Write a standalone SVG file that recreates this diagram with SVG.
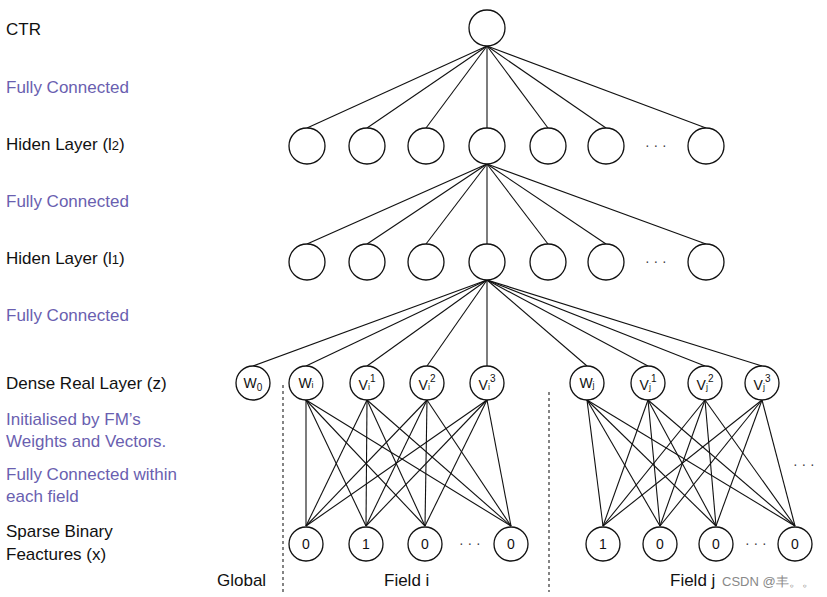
<svg xmlns="http://www.w3.org/2000/svg" width="827" height="597" viewBox="0 0 827 597">
<style>
text{font-family:"Liberation Sans",Arial,sans-serif;font-size:17px;fill:#111}
.p{fill:#6a5fb0}
.n circle{fill:#fff;stroke:#111;stroke-width:1.3}
.c line{stroke:#111;stroke-width:1.1}
.d{stroke:#333;stroke-width:1.2;stroke-dasharray:3,3}
.s{font-size:14px;text-anchor:middle}
.dots{font-size:14px;fill:#444}
</style>
<rect width="827" height="597" fill="#fff"/>
<g id="labels">
<text x="6" y="35">CTR</text>
<text x="6" y="93" class="p">Fully Connected</text>
<text x="6" y="150">Hiden Layer (l<tspan font-size="13">2</tspan>)</text>
<text x="6" y="207" class="p">Fully Connected</text>
<text x="6" y="264">Hiden Layer (l<tspan font-size="13">1</tspan>)</text>
<text x="6" y="321" class="p">Fully Connected</text>
<text x="6" y="389">Dense Real Layer (z)</text>
<text x="6" y="425" class="p">Initialised by FM’s</text>
<text x="6" y="447" class="p">Weights and Vectors.</text>
<text x="6" y="480" class="p">Fully Connected within</text>
<text x="6" y="502" class="p">each field</text>
<text x="6" y="537">Sparse Binary</text>
<text x="6" y="560">Feactures (x)</text>
<text x="217" y="586">Global</text>
<text x="384" y="586">Field i</text>
<text x="670" y="586">Field j</text>
<text x="722" y="586" style="font-size:13px;fill:#888">CSDN @丰。。</text>
</g>
<g id="connectors" class="c">
<line x1="487" y1="46" x2="307" y2="128"/><line x1="487" y1="46" x2="367" y2="128"/><line x1="487" y1="46" x2="426" y2="128"/><line x1="487" y1="46" x2="487" y2="128"/><line x1="487" y1="46" x2="548" y2="128"/><line x1="487" y1="46" x2="606" y2="128"/><line x1="487" y1="46" x2="706" y2="128"/>
<line x1="487" y1="164" x2="307" y2="244"/><line x1="487" y1="164" x2="367" y2="244"/><line x1="487" y1="164" x2="426" y2="244"/><line x1="487" y1="164" x2="487" y2="244"/><line x1="487" y1="164" x2="548" y2="244"/><line x1="487" y1="164" x2="606" y2="244"/><line x1="487" y1="164" x2="706" y2="244"/>
<line x1="487" y1="280" x2="253" y2="366"/><line x1="487" y1="280" x2="306" y2="366"/><line x1="487" y1="280" x2="367" y2="366"/><line x1="487" y1="280" x2="427" y2="366"/><line x1="487" y1="280" x2="487" y2="366"/><line x1="487" y1="280" x2="587" y2="366"/><line x1="487" y1="280" x2="648" y2="366"/><line x1="487" y1="280" x2="705" y2="366"/><line x1="487" y1="280" x2="762" y2="366"/>
<!-- field i -->
<line x1="306" y1="400" x2="306" y2="526"/><line x1="306" y1="400" x2="366" y2="526"/><line x1="306" y1="400" x2="425" y2="526"/><line x1="306" y1="400" x2="511" y2="526"/>
<line x1="367" y1="400" x2="306" y2="526"/><line x1="367" y1="400" x2="366" y2="526"/><line x1="367" y1="400" x2="425" y2="526"/><line x1="367" y1="400" x2="511" y2="526"/>
<line x1="427" y1="400" x2="306" y2="526"/><line x1="427" y1="400" x2="366" y2="526"/><line x1="427" y1="400" x2="425" y2="526"/><line x1="427" y1="400" x2="511" y2="526"/>
<line x1="487" y1="400" x2="306" y2="526"/><line x1="487" y1="400" x2="366" y2="526"/><line x1="487" y1="400" x2="425" y2="526"/><line x1="487" y1="400" x2="511" y2="526"/>
<!-- field j -->
<line x1="587" y1="400" x2="603" y2="526"/><line x1="587" y1="400" x2="660" y2="526"/><line x1="587" y1="400" x2="716" y2="526"/><line x1="587" y1="400" x2="795" y2="526"/>
<line x1="648" y1="400" x2="603" y2="526"/><line x1="648" y1="400" x2="660" y2="526"/><line x1="648" y1="400" x2="716" y2="526"/><line x1="648" y1="400" x2="795" y2="526"/>
<line x1="705" y1="400" x2="603" y2="526"/><line x1="705" y1="400" x2="660" y2="526"/><line x1="705" y1="400" x2="716" y2="526"/><line x1="705" y1="400" x2="795" y2="526"/>
<line x1="762" y1="400" x2="603" y2="526"/><line x1="762" y1="400" x2="660" y2="526"/><line x1="762" y1="400" x2="716" y2="526"/><line x1="762" y1="400" x2="795" y2="526"/>
</g>
<line class="d" x1="283" y1="385" x2="283" y2="592"/>
<line class="d" x1="549" y1="392" x2="549" y2="592"/>
<g id="ctr" class="n"><circle cx="487" cy="28" r="18"/></g>
<g id="l2" class="n">
<circle cx="307" cy="146" r="18"/><circle cx="367" cy="146" r="18"/><circle cx="426" cy="146" r="18"/><circle cx="487" cy="146" r="18"/><circle cx="548" cy="146" r="18"/><circle cx="606" cy="146" r="18"/><circle cx="706" cy="146" r="18"/>
<text x="645" y="150" class="dots">· · ·</text>
</g>
<g id="l1" class="n">
<circle cx="307" cy="262" r="18"/><circle cx="367" cy="262" r="18"/><circle cx="426" cy="262" r="18"/><circle cx="487" cy="262" r="18"/><circle cx="548" cy="262" r="18"/><circle cx="606" cy="262" r="18"/><circle cx="706" cy="262" r="18"/>
<text x="645" y="266" class="dots">· · ·</text>
</g>
<g id="dense" class="n">
<circle cx="253" cy="383" r="17"/><text class="s" x="253" y="388">W<tspan font-size="10" dy="3">0</tspan></text>
<circle cx="306" cy="383" r="17"/><text class="s" x="306" y="388">W<tspan font-size="9">i</tspan></text>
<circle cx="367" cy="383" r="17"/><text class="s" x="367" y="390">V<tspan font-size="9">i</tspan><tspan font-size="10" dy="-8">1</tspan></text>
<circle cx="427" cy="383" r="17"/><text class="s" x="427" y="390">V<tspan font-size="9">i</tspan><tspan font-size="10" dy="-8">2</tspan></text>
<circle cx="487" cy="383" r="17"/><text class="s" x="487" y="390">V<tspan font-size="9">i</tspan><tspan font-size="10" dy="-8">3</tspan></text>
<circle cx="587" cy="383" r="17"/><text class="s" x="587" y="388">W<tspan font-size="9">j</tspan></text>
<circle cx="648" cy="383" r="17"/><text class="s" x="648" y="390">V<tspan font-size="9">j</tspan><tspan font-size="10" dy="-8">1</tspan></text>
<circle cx="705" cy="383" r="17"/><text class="s" x="705" y="390">V<tspan font-size="9">j</tspan><tspan font-size="10" dy="-8">2</tspan></text>
<circle cx="762" cy="383" r="17"/><text class="s" x="762" y="390">V<tspan font-size="9">j</tspan><tspan font-size="10" dy="-8">3</tspan></text>
</g>
<g id="sparse" class="n">
<circle cx="306" cy="544" r="17"/><text class="s" x="306" y="549">0</text>
<circle cx="366" cy="544" r="17"/><text class="s" x="366" y="549">1</text>
<circle cx="425" cy="544" r="17"/><text class="s" x="425" y="549">0</text>
<text x="459" y="548" class="dots">· · ·</text>
<circle cx="511" cy="544" r="17"/><text class="s" x="511" y="549">0</text>
<circle cx="603" cy="544" r="17"/><text class="s" x="603" y="549">1</text>
<circle cx="660" cy="544" r="17"/><text class="s" x="660" y="549">0</text>
<circle cx="716" cy="544" r="17"/><text class="s" x="716" y="549">0</text>
<text x="745" y="548" class="dots">· · ·</text>
<circle cx="795" cy="544" r="17"/><text class="s" x="795" y="549">0</text>
<text x="793" y="469" class="dots">· · ·</text>
</g>
</svg>
